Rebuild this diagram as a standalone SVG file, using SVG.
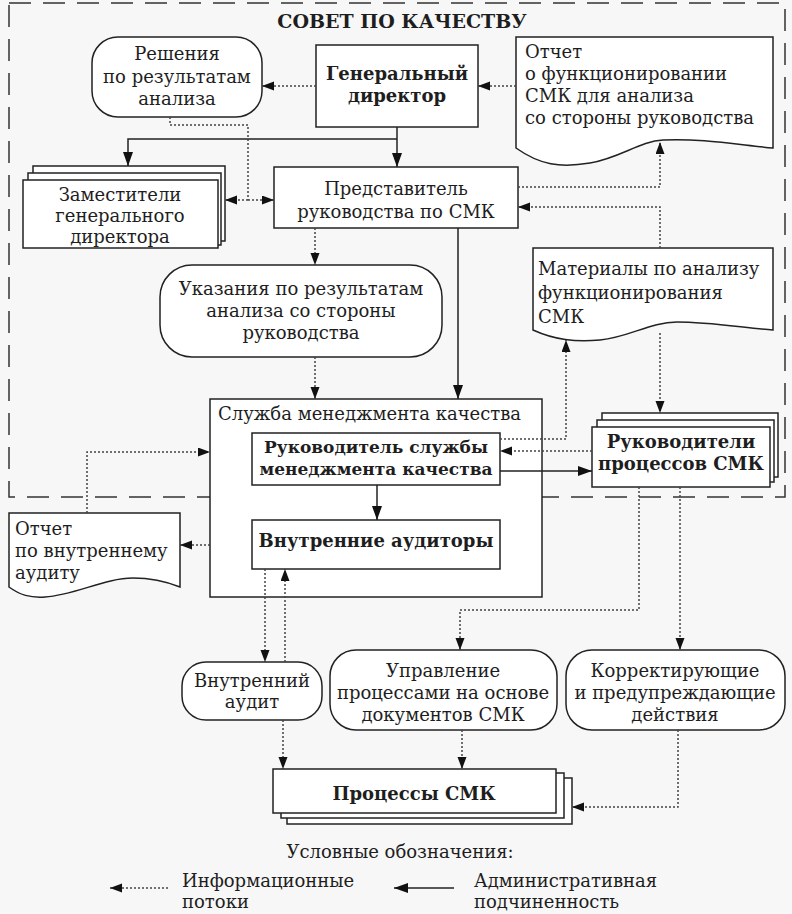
<svg xmlns="http://www.w3.org/2000/svg" width="792" height="914" viewBox="0 0 792 914">
<style>
.t{font-family:"DejaVu Serif","Liberation Serif",serif;font-size:18px;fill:#1e1e1e}
.c{text-anchor:middle}
.b{font-weight:bold}
.box{fill:#fff;stroke:#222;stroke-width:1.5}
.frame{fill:none;stroke:#333;stroke-width:1.5;stroke-dasharray:22 12}
.adm{fill:none;stroke:#222;stroke-width:1.5;marker-end:url(#ah)}
.inf{fill:none;stroke:#444;stroke-width:1.5;stroke-dasharray:2 2;marker-end:url(#ai)}
.infn{fill:none;stroke:#444;stroke-width:1.5;stroke-dasharray:2 2}
</style>
<defs>
<marker id="ah" markerUnits="userSpaceOnUse" markerWidth="15" markerHeight="11" refX="14" refY="5" orient="auto"><path d="M0,0 L14,5 L0,10 Z" fill="#111"/></marker>
<marker id="ai" markerUnits="userSpaceOnUse" markerWidth="13" markerHeight="10" refX="12" refY="4.5" orient="auto"><path d="M0,0 L12,4.5 L0,9 Z" fill="#111"/></marker>
</defs>
<rect width="792" height="914" fill="#f7f7f7"/>
<rect class="frame" x="9" y="3" width="776" height="494"/>
<text class="t c b" x="402" y="28" style="font-size:19px">СОВЕТ ПО КАЧЕСТВУ</text>

<g id="reshenia">
<rect class="box" x="92" y="37" width="170" height="80" rx="26"/>
<text class="t c" x="177" y="60">Решения</text>
<text class="t c" x="177" y="83">по результатам</text>
<text class="t c" x="177" y="105">анализа</text>
</g>
<g id="gendir">
<rect class="box" x="316" y="45" width="162" height="82"/>
<text class="t c b" x="397" y="80">Генеральный</text>
<text class="t c b" x="397" y="102">директор</text>
</g>
<g id="otchet-smk">
<path class="box" d="M516,37 H773 V148 C740,145 700,138 663,140 C640,141 620,158 590,163 C560,168 540,165 516,148 Z"/>
<text class="t" x="525" y="58">Отчет</text>
<text class="t" x="525" y="80">о функционировании</text>
<text class="t" x="525" y="102">СМК для анализа</text>
<text class="t" x="525" y="124">со  стороны руководства</text>
</g>
<g id="zamestiteli">
<rect class="box" x="33" y="166" width="192" height="75"/>
<rect class="box" x="28" y="173" width="193" height="72"/>
<rect class="box" x="23" y="180" width="195" height="68"/>
<text class="t c" x="120" y="201">Заместители</text>
<text class="t c" x="120" y="222">генерального</text>
<text class="t c" x="120" y="243">директора</text>
</g>
<g id="predstavitel">
<rect class="box" x="274" y="167" width="244" height="61"/>
<text class="t c" x="396" y="195">Представитель</text>
<text class="t c" x="396" y="218">руководства по СМК</text>
</g>
<g id="ukazaniya">
<rect class="box" x="160" y="265" width="282" height="92" rx="32"/>
<text class="t c" x="301" y="295">Указания по результатам</text>
<text class="t c" x="301" y="317">анализа со  стороны</text>
<text class="t c" x="301" y="339">руководства</text>
</g>
<g id="materialy">
<path class="box" d="M533,248 H773 V330 C745,328 710,322 677,322 C650,322 630,337 600,340 C575,342 555,340 533,330 Z"/>
<text class="t" x="538" y="275">Материалы по анализу</text>
<text class="t" x="538" y="299">функционирования</text>
<text class="t" x="538" y="323">СМК</text>
</g>
<g id="sluzhba">
<rect class="box" x="210" y="399" width="332" height="198"/>
<text class="t" x="218" y="420">Служба менеджмента  качества</text>
</g>
<g id="ruk-sluzhby">
<rect class="box" x="252" y="433" width="248" height="52"/>
<text class="t c b" x="376" y="453" style="font-size:17px">Руководитель службы</text>
<text class="t c b" x="376" y="475" style="font-size:17px">менеджмента качества</text>
</g>
<g id="ruk-processov">
<rect class="box" x="602" y="413" width="176" height="64"/>
<rect class="box" x="597" y="420" width="177" height="62"/>
<rect class="box" x="592" y="427" width="178" height="60"/>
<text class="t c b" x="681" y="448">Руководители</text>
<text class="t c b" x="681" y="470">процессов СМК</text>
</g>
<g id="otchet-audit">
<path class="box" d="M9,513 H180 V587 C170,583 155,578 133,578 C105,578 75,595 45,597 C30,598 20,595 9,587 Z"/>
<text class="t" x="15" y="535">Отчет</text>
<text class="t" x="15" y="557">по внутреннему</text>
<text class="t" x="15" y="579">аудиту</text>
</g>
<g id="auditory">
<rect class="box" x="252" y="520" width="248" height="49"/>
<text class="t c b" x="376" y="547">Внутренние аудиторы</text>
</g>
<g id="vnutr-audit">
<rect class="box" x="182" y="662" width="140" height="58" rx="24"/>
<text class="t c" x="252" y="687">Внутренний</text>
<text class="t c" x="252" y="708">аудит</text>
</g>
<g id="upravlenie">
<rect class="box" x="330" y="650" width="227" height="80" rx="26"/>
<text class="t c" x="443" y="677">Управление</text>
<text class="t c" x="443" y="699">процессами на основе</text>
<text class="t c" x="443" y="721">документов СМК</text>
</g>
<g id="korrekt">
<rect class="box" x="566" y="650" width="219" height="80" rx="26"/>
<text class="t c" x="675" y="677">Корректирующие</text>
<text class="t c" x="675" y="699">и предупреждающие</text>
<text class="t c" x="675" y="721">действия</text>
</g>
<g id="processy">
<rect class="box" x="287" y="778" width="285" height="46"/>
<rect class="box" x="281" y="773" width="283" height="45"/>
<rect class="box" x="273" y="769" width="283" height="44"/>
<text class="t c b" x="414" y="800">Процессы СМК</text>
</g>

<g id="connectors">
<path class="adm" d="M397,127 V167"/>
<path class="adm" d="M397,139 H128 V166"/>
<path class="adm" d="M458,228 V399"/>
<path class="adm" d="M500,471 H592"/>
<path class="adm" d="M377,485 V520"/>

<path class="inf" d="M316,86 H262"/>
<path class="inf" d="M516,86 H478"/>
<path class="infn" d="M170,117 V125 H248 V200"/>
<path class="inf" d="M248,200 H225"/>
<path class="inf" d="M248,200 H274"/>
<path class="inf" d="M315,228 V265"/>
<path class="inf" d="M518,187 H660 V142"/>
<path class="inf" d="M660,248 V207 H518"/>
<path class="inf" d="M660,333 V413"/>
<path class="inf" d="M500,439 H566 V340"/>
<path class="inf" d="M592,451 H500"/>
<path class="inf" d="M315,357 V399"/>
<path class="inf" d="M87,513 V452 H210"/>
<path class="inf" d="M210,545 H180"/>
<path class="inf" d="M265,569 V662"/>
<path class="inf" d="M285,662 V569"/>
<path class="inf" d="M283,720 V769"/>
<path class="inf" d="M639,487 V610 H460 V650"/>
<path class="inf" d="M680,487 V650"/>
<path class="inf" d="M462,730 V769"/>
<path class="inf" d="M678,730 V807 H572"/>
</g>

<g id="legend">
<text class="t c" x="400" y="858">Условные обозначения:</text>
<path class="inf" d="M168,888 H110"/>
<text class="t" x="182" y="887">Информационные</text>
<text class="t" x="182" y="908">потоки</text>
<path class="adm" d="M454,888 H394"/>
<text class="t" x="474" y="887">Административная</text>
<text class="t" x="474" y="908">подчиненность</text>
</g>
</svg>
